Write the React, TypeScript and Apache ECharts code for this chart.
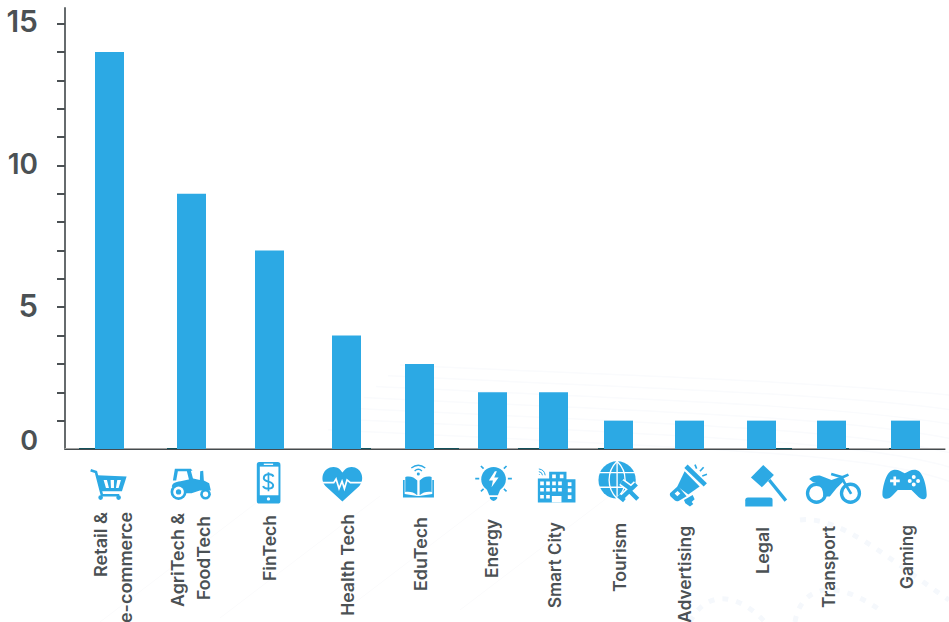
import React, { useEffect, useRef } from "react";
import * as echarts from "echarts";

// ---------- data ----------
const categories = ["Retail & e-commerce", "AgriTech & FoodTech", "FinTech", "Health Tech", "EduTech", "Energy", "Smart City", "Tourism", "Advertising", "Legal", "Transport", "Gaming"];
const values = [14, 9, 7, 4, 3, 2, 2, 1, 1, 1, 1, 1];
const categoryPositions = [44.5, 126.5, 204.5, 281.5, 354.5, 427.5, 488.5, 553.5, 624.5, 696.5, 766.5, 840.5];
const baselineStarts = [14, 102, 296, 369, 453, 533, 711, 781, 824];
const baselineEnds = [30, 112, 306, 394, 474, 539, 727, 784, 826];
const baselineValues = [0.04, 0.04, 0.04, 0.04, 0.04, 0.04, 0.04, 0.04, 0.04];
const tickValues = [1, 2, 3, 4, 5, 6, 7, 8, 9, 10, 11, 12, 13, 14, 15];
const labelValues = [0, 5, 10, 15];

// ---------- label layout: text, centre x, top y, target length ----------
const labelLines: [string, number, number, number][] = [
  ["Retail &", 100.5, 512, 65],
  ["e-commerce", 126, 512, 111],
  ["AgriTech &", 177.5, 513, 94],
  ["FoodTech", 204, 516, 84],
  ["FinTech", 269.5, 515, 66],
  ["Health Tech", 347.5, 514, 102],
  ["EduTech", 420.5, 517, 74],
  ["Energy", 492, 519, 59],
  ["Smart City", 555, 522, 86],
  ["Tourism", 620, 523, 69],
  ["Advertising", 685, 526, 97],
  ["Legal", 763, 527, 47],
  ["Transport", 829, 526, 82],
  ["Gaming", 907, 525, 64],
];

const BLUE = "#2CA9E4";
const INK = "#4b5154";

const circle = (cx: number, cy: number, r: number) =>
  `M${cx - r} ${cy}A${r} ${r} 0 1 1 ${cx + r} ${cy}A${r} ${r} 0 1 1 ${cx - r} ${cy}Z`;
const sq = (x: number, y: number, s: number) => `M${x} ${y}h${s}v${s}h${-s}Z`;

type Part = { d: string; fill?: string; stroke?: string; lw?: number; dash?: number[] };
const W = "#ffffff";

// Icons are authored in 3x crop coordinates, with an origin on the page
const iconsA: Part[] = [
  // cart
  { d: "M92 121L108 126L126 196L178 196", stroke: BLUE, lw: 8 },
  { d: "M112 136L200 140L186 184L122 184Z", fill: BLUE },
  { d: "M131 150L141 150L147 174L138 174ZM152 150L162 150L162 174L153 174ZM172 150L183 150L176 174L168 174Z", fill: W },
  { d: circle(122, 203, 7) + circle(176, 203, 7), fill: BLUE },
  // tractor
  { d: "M345 116L393 116L398 122L393 122L401 152L388 152L381 124L354 124L349 152L339 152Z", fill: BLUE },
  { d: "M336 172C336 160 345 156 362 154L400 146L420 150L421 124L430 122L432 152L448 160L453 182L420 182L395 190L378 190C372 165 350 160 336 172Z", fill: BLUE },
  { d: circle(356, 186, 24), fill: BLUE },
  { d: circle(356, 186, 16), fill: W },
  { d: circle(356, 186, 8), fill: BLUE },
  { d: circle(437, 193, 16), fill: BLUE },
  { d: circle(437, 193, 8), fill: W },
  // phone
  { d: "M598 96L654 96Q662 96 662 104L662 213Q662 221 654 221L598 221Q591 221 591 213L591 104Q591 96 598 96Z", fill: BLUE },
  { d: "M600 110L656 110L656 196L600 196Z", fill: W },
  { d: "M612 101L640 101L640 105L612 105Z", fill: W },
  { d: circle(626, 207, 5), fill: W },
  { d: "M641 140C638 130 612 130 612 145C612 158 640 152 640 166C640 180 613 178 610 168", stroke: BLUE, lw: 6 },
  { d: "M626 127L626 184", stroke: BLUE, lw: 5 },
  // heart
  { d: "M848 215L797 168C778 146 792 110 822 111C835 111 844 120 848 128C853 120 862 111 875 111C904 110 918 146 899 168Z", fill: BLUE },
  { d: "M786 158L822 158L829 147L838 176L847 154L854 176L862 150L872 158L912 158", stroke: W, lw: 5 },
];
const iconsB: Part[] = [
  // book with wifi
  { d: "M76 141C90 137 103 142 112 152L112 196C102 187 90 184 76 186Z", fill: BLUE },
  { d: "M155 141C141 137 128 142 119 152L119 196C129 187 141 184 155 186Z", fill: BLUE },
  { d: "M69 150L69 203L162 203L162 150L157 150L157 192L118 198L112 198L74 192L74 150Z", fill: BLUE },
  { d: circle(115, 132, 4.5), fill: BLUE },
  { d: "M104 123Q115 113 126 123", stroke: BLUE, lw: 4 },
  { d: "M94 114Q115 98 136 114", stroke: BLUE, lw: 4 },
  // bulb
  { d: circle(341, 148, 37), fill: BLUE },
  { d: "M318 172L364 172L354 196L328 196Z", fill: BLUE },
  { d: "M330 201L352 201L352 206Q341 220 330 206Z", fill: BLUE },
  { d: "M345 124L327 152L339 152L335 172L356 143L343 143L351 124Z", fill: W },
  { d: "M286 146L298 146M384 146L396 146M303 108L311 116M380 108L372 116M303 184L311 177M380 184L372 177", stroke: BLUE, lw: 5 },
  // city
  { d: "M474 146L508 146L508 125L560 125L560 148L587 148L587 218L474 218Z", fill: BLUE },
  {
    d: [481, 499, 517, 535].flatMap((x) => [155, 174].map((y) => sq(x, y, 11))).join("") +
      sq(481, 195, 11) + sq(499, 195, 11) + sq(564, 157, 11) + sq(564, 176, 11) + sq(564, 196, 11) +
      sq(517, 134, 11) + sq(540, 134, 11) + "M516 198L545 198L545 218L516 218Z",
    fill: W,
  },
  { d: "M478 133L480 135M477 125Q487 126 488 136M477 117Q494 119 496 136", stroke: BLUE, lw: 3 },
  // globe and plane
  { d: circle(712, 150, 56), fill: BLUE },
  { d: "M658 128L766 128M658 172L766 172M712 94L712 206", stroke: W, lw: 4 },
  { d: "M712 94C680 125 680 175 712 206C744 175 744 125 712 94Z", stroke: W, lw: 4 },
  { d: "M770 162L724 206M725 156L755 178M750 184L774 208M716 197L734 212", stroke: W, lw: 22 },
  { d: "M770 162L724 206M725 156L755 178M750 184L774 208M716 197L734 212", stroke: BLUE, lw: 13 },
];
const iconsC: Part[] = [
  // megaphone
  { d: "M78 109L136 165", stroke: BLUE, lw: 14 },
  { d: "M74 124L119 170L85 194L52 170Z", fill: BLUE },
  { d: "M30 190L54 168L80 199L56 213Q50 216 44 211L32 200Q28 195 30 190Z", fill: BLUE },
  { d: "M44 191L53 183L61 191L52 199Z", fill: W },
  { d: "M72 210L98 195L104 208L95 216L100 222L90 230L76 220Z", fill: BLUE },
  { d: "M105 104L110 116M131 112L120 124M141 133L127 138", stroke: BLUE, lw: 5 },
  // gavel
  { d: "M310 105L342 135L306 172L273 143Z", fill: BLUE },
  { d: "M328 150L378 212", stroke: BLUE, lw: 10 },
  { d: "M264 203L330 203Q338 203 338 210L338 230L256 230L256 211Q256 203 264 203Z", fill: BLUE },
  // motorbike
  { d: circle(470, 190, 27), stroke: BLUE, lw: 10 },
  { d: circle(572, 190, 27), stroke: BLUE, lw: 10 },
  { d: "M448 147C456 138 474 135 484 138L515 150L545 140L555 150L530 175L510 200L490 200C492 178 480 160 460 157Z", fill: BLUE },
  { d: "M514 132L548 142L566 134M546 145L574 192", stroke: BLUE, lw: 8 },
  // gamepad
  { d: "M700 120C714 117 725 125 735 130C745 125 756 117 770 120C790 124 801 170 801 195C801 212 785 212 771 196L755 180L714 180L699 196C685 212 666 210 668 190C670 165 680 124 700 120Z", fill: BLUE },
  { d: "M691 153L720 153M705 140L705 167", stroke: W, lw: 8 },
  { d: circle(762, 141, 6) + circle(775, 153, 6) + circle(762, 164, 6) + circle(750, 153, 6), fill: W },
];

// Faint watermark behind the chart
const faint: Part[] = [
  ...[0, 12, 24, 36, 48, 60, 72].map((k): Part => ({
    d: `M${400 - k} ${365 + k * 0.9}C${600 + k} ${375 + k},${800 + k} ${380 + k},${949} ${395 + k * 1.2}`,
    stroke: "#fafbfd",
    lw: 1.5,
  })),
  ...[0, 1, 2, 3].map((k): Part => ({
    d: `M${100 + k * 120} ${622 - k * 4}L${260 + k * 120} ${500 - k * 4}`,
    stroke: "#fbfbfc",
    lw: 1,
  })),
  { d: "M690 622C705 592 735 590 765 622M795 622C800 590 830 575 880 610M800 520C840 515 890 560 949 600", stroke: "#f5f8fc", lw: 5, dash: [6, 8] },
];

let partCount = 0;
const partElements = (parts: Part[], ox: number, oy: number, scale: number) =>
  parts.map((p) => {
    const name = `iconPart${partCount++}`;
    echarts.graphic.registerShape(name, echarts.graphic.extendPath(p.d, {}));
    return {
      type: name,
      x: ox,
      y: oy,
      scaleX: scale,
      scaleY: scale,
      silent: true,
      style: { fill: p.fill ?? "none", stroke: p.stroke ?? "none", lineWidth: p.lw ?? 0, lineCap: "butt", lineJoin: "miter", lineDash: p.dash },
    };
  });

const graphicElements: any[] = [
  ...partElements(faint, 0, 0, 1),
  ...partElements(iconsA, 60, 430, 1 / 3),
  ...partElements(iconsB, 380, 430, 1 / 3),
  ...partElements(iconsC, 660, 430, 1 / 3),
];

const FONT = "Inter";
const LABEL_SIZE = 17;
const tickStyle = (fontSize: number, bottom: number) => ({
  fontFamily: FONT,
  fontWeight: 600,
  fontSize,
  color: INK,
  padding: [0, 0, bottom, 0],
});

export default function App() {
  const ref = useRef<HTMLDivElement>(null);
  useEffect(() => {
    document.body.style.margin = "0";
    const chart = echarts.init(ref.current!, null, { renderer: "svg" });
    const textEls: any[] = labelLines.map(([text, x, y, len]) => {
      const natural = (echarts.format as any).getTextRect?.(text, `600 ${LABEL_SIZE}px ${FONT}`)?.width;
      const w = natural || len;
      return {
        type: "text",
        x,
        y,
        rotation: Math.PI / 2,
        scaleX: len / w,
        silent: true,
        style: { text, fill: INK, font: `600 ${LABEL_SIZE}px ${FONT}`, align: "right", verticalAlign: "middle" },
      };
    });
    chart.setOption({
      animation: false,
      backgroundColor: "#ffffff",
      grid: { left: 65, top: 8, width: 880, height: 441, containLabel: false },
      graphic: { elements: [...graphicElements, ...textEls] },
      xAxis: [
        {
          type: "value",
          min: 0,
          max: 880,
          position: "bottom",
          splitLine: { show: false },
          axisTick: { show: false },
          axisLabel: { show: false },
          axisLine: { show: true, onZero: false, lineStyle: { color: "#454b4e", width: 1 } },
        },
        {
          type: "value",
          min: 0,
          max: 880,
          position: "bottom",
          offset: -1,
          splitLine: { show: false },
          axisTick: { show: false },
          axisLabel: { show: false },
          axisLine: { show: true, onZero: false, lineStyle: { color: "#a3a3a3", width: 1 } },
        },
      ],
      yAxis: [
        {
          type: "value",
          min: 0,
          max: 15.55,
          position: "left",
          splitLine: { show: false },
          axisTick: { show: false },
          axisLabel: { show: false },
          axisLine: { show: true, onZero: false, lineStyle: { color: "#666b6d", width: 2 } },
        },
        {
          type: "value",
          min: 0,
          max: 15.55,
          position: "left",
          offset: 3,
          splitLine: { show: false },
          axisLine: { show: false },
          axisTick: { show: true, length: 8, customValues: tickValues, lineStyle: { color: "#4b5154", width: 2 } },
          axisLabel: {
            show: true,
            customValues: labelValues,
            margin: 24,
            hideOverlap: false,
            showMinLabel: true,
            showMaxLabel: true,
            formatter: (v: number) => (v === 0 ? `{z|${v}}` : v === 15 ? `{t|${v}}` : v === 5 ? `{f|${v}}` : `{n|${v}}`),
            rich: {
              n: tickStyle(28, 2),
              f: tickStyle(31, 4),
              t: tickStyle(30, 5),
              z: tickStyle(27, 18),
            },
          },
        },
      ],
      series: [
        {
          type: "custom",
          name: "baseline",
          xAxisIndex: 0,
          yAxisIndex: 0,
          data: baselineStarts.map((s, i) => [s, baselineEnds[i], baselineValues[i]]),
          encode: { x: [0, 1], y: 2 },
          renderItem: (_: any, api: any) => {
            const a = api.coord([api.value(0), api.value(2)]);
            const b = api.coord([api.value(1), 0]);
            return {
              type: "rect",
              shape: { x: a[0], y: b[1] - 1, width: b[0] - a[0], height: 1 },
              style: { fill: "#14525c" },
            };
          },
          z: 3,
        },
        {
          type: "bar",
          name: "Startups",
          xAxisIndex: 0,
          yAxisIndex: 0,
          barWidth: 29,
          data: values.map((v, i) => ({ value: [categoryPositions[i], v], name: categories[i] })),
          itemStyle: { color: BLUE },
          z: 4,
        },
      ],
    });
    return () => chart.dispose();
  }, []);
  return <div ref={ref} style={{ position: "absolute", left: 0, top: 0, width: 949, height: 622 }} />;
}
